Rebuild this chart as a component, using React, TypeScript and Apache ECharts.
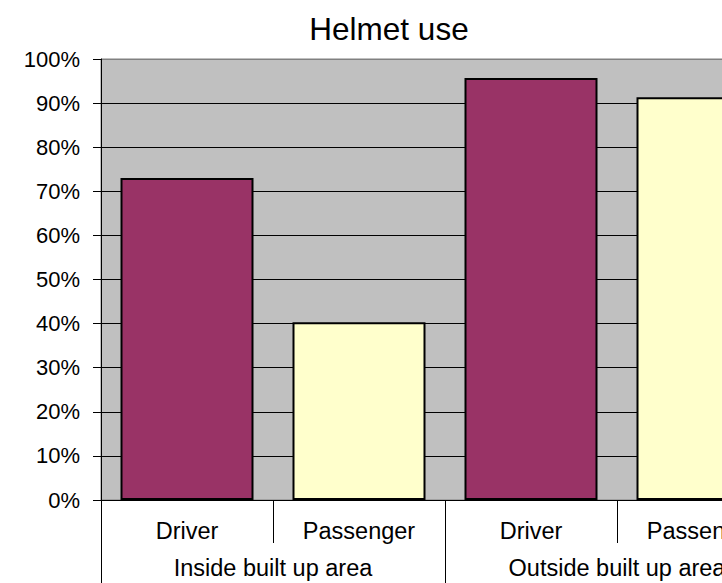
import React, { useEffect, useRef } from "react";
import * as echarts from "echarts";

const title = "Helmet use";
const categories = ["Driver", "Passenger", "Driver", "Passenger"];
const groups = ["Inside built up area", "Outside built up area"];
const values = [0.73, 0.403, 0.957, 0.913];
const roleColors: Record<string, string> = { Driver: "#993366", Passenger: "#FFFFCC" };

const FONT = "'Liberation Sans', Arial, sans-serif";

export default function App() {
  const ref = useRef<HTMLDivElement>(null);
  useEffect(() => {
    if (!ref.current) return;
    const chart = echarts.init(ref.current, null, { renderer: "svg" });
    const gridColors = Array.from({ length: 11 }, (_, i) => (i === 10 ? "#808080" : "#000000"));
    chart.setOption({
      animation: false,
      title: {
        text: title,
        left: 384,
        top: 8,
        textAlign: "center",
        textStyle: { fontFamily: FONT, fontSize: 31.5, fontWeight: "normal", color: "#000" },
      },
      grid: {
        left: 101,
        top: 59,
        right: 11,
        bottom: 83,
        outerBoundsMode: "none",
        show: true,
        backgroundColor: "#C0C0C0",
        borderColor: "#808080",
        borderWidth: 1,
      },
      xAxis: [
        {
          type: "category",
          data: categories,
          position: "bottom",
          boundaryGap: true,
          axisLine: { show: true, lineStyle: { color: "#000", width: 1 } },
          axisTick: { show: true, length: 43, interval: 0, lineStyle: { color: "#000" } },
          axisLabel: { interval: 0, margin: 19, fontFamily: FONT, fontSize: 23.5, color: "#000" },
          splitLine: { show: false },
        },
        {
          type: "category",
          data: groups,
          position: "bottom",
          boundaryGap: true,
          axisLine: { show: false },
          axisTick: { show: true, length: 100, interval: 0, lineStyle: { color: "#000" } },
          axisLabel: { interval: 0, margin: 56, fontFamily: FONT, fontSize: 23.5, color: "#000" },
          splitLine: { show: false },
        },
      ],
      yAxis: {
        type: "value",
        min: 0,
        max: 1,
        interval: 0.1,
        axisLine: { show: true, lineStyle: { color: "#000", width: 1 } },
        axisTick: { show: true, length: 8, lineStyle: { color: "#000" } },
        axisLabel: {
          margin: 21,
          fontFamily: FONT,
          fontSize: 22,
          color: "#000",
          formatter: (v: number) => `${Math.round(v * 100)}%`,
        },
        splitLine: { show: true, lineStyle: { color: gridColors, width: 1 } },
      },
      series: [
        {
          type: "bar",
          xAxisIndex: 0,
          barWidth: 133,
          data: values.map((v, i) => ({
            value: v,
            itemStyle: { color: roleColors[categories[i]] },
          })),
          itemStyle: { borderColor: "#000", borderWidth: 2 },
        },
      ],
    });
    return () => chart.dispose();
  }, []);
  return (
    <div
      style={{
        position: "fixed",
        left: 0,
        top: 0,
        width: 722,
        height: 583,
        overflow: "hidden",
        background: "#fff",
      }}
    >
      <div ref={ref} style={{ width: 800, height: 583 }} />
    </div>
  );
}
